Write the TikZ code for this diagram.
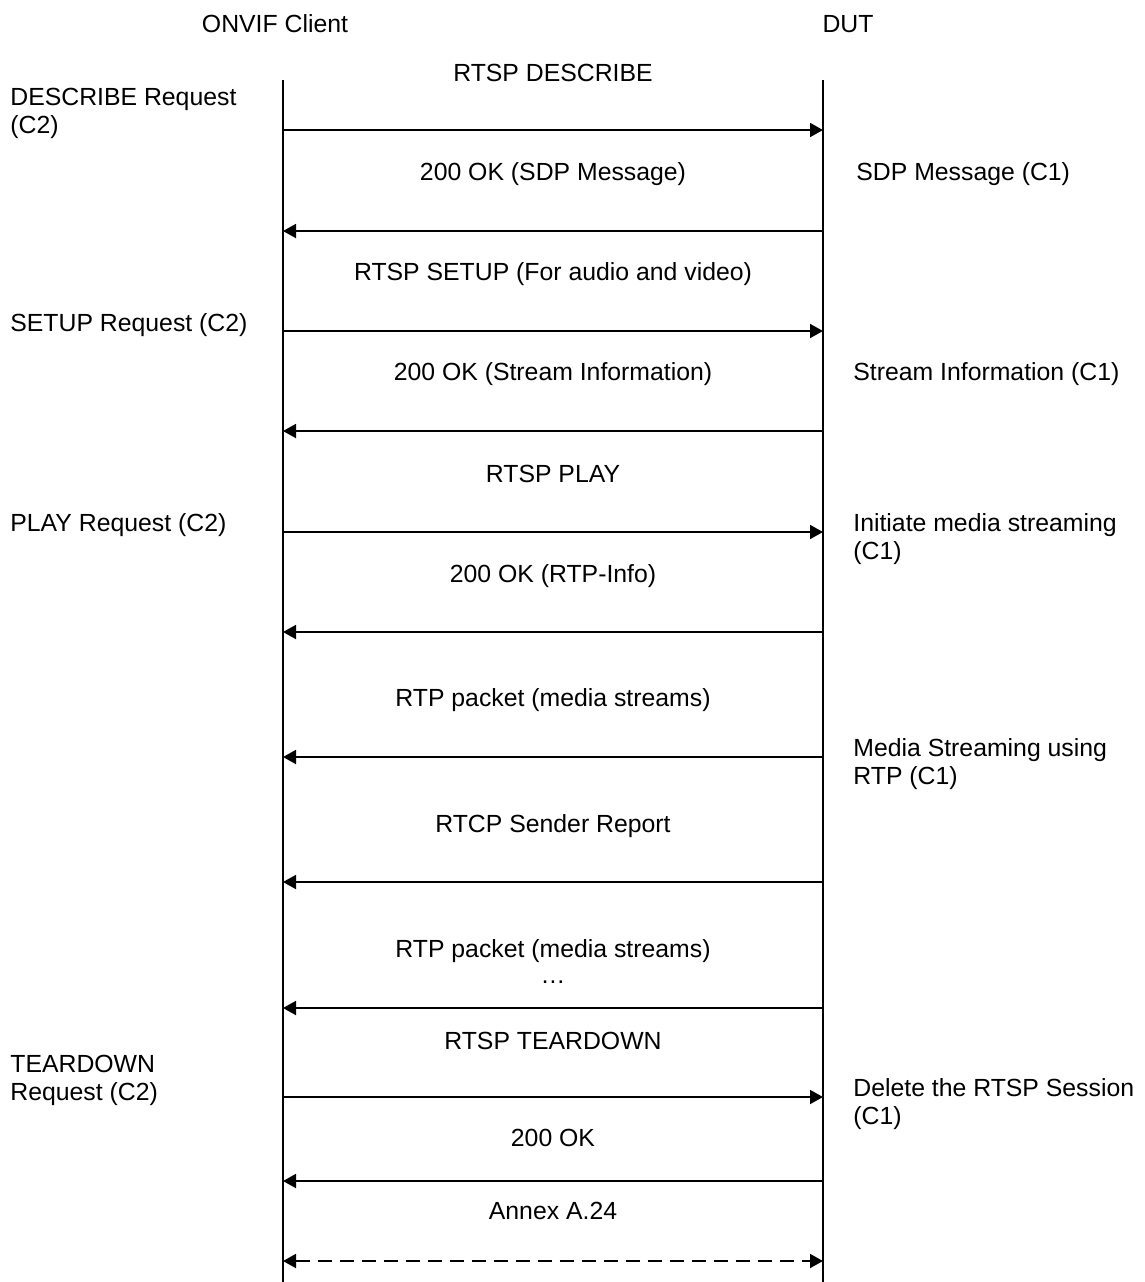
\documentclass[tikz,border=0pt]{standalone}
\usepackage{fontspec}
\setmainfont{Liberation Sans}
\usetikzlibrary{arrows.meta}

\begin{document}
\begin{tikzpicture}[x=0.5pt,y=-0.5pt,>={Triangle[length=6.5pt,width=7pt]},
    font=\fontsize{12.4}{14}\selectfont]
    \tikzset{
        lifeline/.style={line width=0.7pt},
        msg/.style={->,line width=0.9pt},
        msglabel/.style={inner sep=0pt,anchor=center,yshift=-1pt},
        sidenote/.style={inner sep=0pt,anchor=west,align=left,yshift=-1pt}
    }
    \useasboundingbox (0,0) rectangle (1145,1282);

    % headers and lifelines
    \node[msglabel] (client) at (275,22) {ONVIF Client};
    \node[msglabel] (dut) at (848,22) {DUT};
    \coordinate (ctop) at (283,80);
    \coordinate (cbot) at (283,1282);
    \coordinate (dtop) at (823,80);
    \coordinate (dbot) at (823,1282);
    \draw[lifeline] (ctop) -- (cbot);
    \draw[lifeline] (dtop) -- (dbot);

    % end points of the messages
    \coordinate (c1) at (283,130);   \coordinate (d1) at (823,130);
    \coordinate (c2) at (283,231);   \coordinate (d2) at (823,231);
    \coordinate (c3) at (283,331);   \coordinate (d3) at (823,331);
    \coordinate (c4) at (283,431);   \coordinate (d4) at (823,431);
    \coordinate (c5) at (283,532);   \coordinate (d5) at (823,532);
    \coordinate (c6) at (283,632);   \coordinate (d6) at (823,632);
    \coordinate (c7) at (283,757);   \coordinate (d7) at (823,757);
    \coordinate (c8) at (283,882);   \coordinate (d8) at (823,882);
    \coordinate (c9) at (283,1008);  \coordinate (d9) at (823,1008);
    \coordinate (c10) at (283,1097); \coordinate (d10) at (823,1097);
    \coordinate (c11) at (283,1181); \coordinate (d11) at (823,1181);
    \coordinate (c12) at (283,1261); \coordinate (d12) at (823,1261);

    % messages
    \draw[msg] (c1) -- (d1);
    \draw[msg] (d2) -- (c2);
    \draw[msg] (c3) -- (d3);
    \draw[msg] (d4) -- (c4);
    \draw[msg] (c5) -- (d5);
    \draw[msg] (d6) -- (c6);
    \draw[msg] (d7) -- (c7);
    \draw[msg] (d8) -- (c8);
    \draw[msg] (d9) -- (c9);
    \draw[msg] (c10) -- (d10);
    \draw[msg] (d11) -- (c11);
    \draw[<->,line width=0.9pt,dash pattern=on 7pt off 4pt] (c12) -- (d12);

    % message labels
    \node[msglabel] (describe) at (553,71) {RTSP DESCRIBE};
    \node[msglabel] (sdpok) at (553,172) {200 OK (SDP Message)};
    \node[msglabel] (setup) at (553,272) {RTSP SETUP (For audio and video)};
    \node[msglabel] (streamok) at (553,372) {200 OK (Stream Information)};
    \node[msglabel] (play) at (553,472) {RTSP PLAY};
    \node[msglabel] (rtpok) at (553,574) {200 OK (RTP-Info)};
    \node[msglabel] (rtp1) at (553,698) {RTP packet (media streams)};
    \node[msglabel] (rtcp) at (553,824) {RTCP Sender Report};
    \node[msglabel] (rtp2) at (553,949) {RTP packet (media streams)};
    \node[msglabel] (dots) at (553,980) {\dots};
    \node[msglabel] (teardown) at (553,1039) {RTSP TEARDOWN};
    \node[msglabel] (tdok) at (553,1136) {200 OK};
    \node[msglabel] (annex) at (553,1209) {Annex A.24};

    % client side notes
    \node[sidenote] (descreq) at (10,111) {DESCRIBE Request\\(C2)};
    \node[sidenote] (setupreq) at (10,323) {SETUP Request (C2)};
    \node[sidenote] (playreq) at (10,523) {PLAY Request (C2)};
    \node[sidenote] (tdreq) at (10,1078) {TEARDOWN\\Request (C2)};

    % DUT side notes
    \node[sidenote] (sdpmsg) at (856,172) {SDP Message (C1)};
    \node[sidenote] (streaminfo) at (853,372) {Stream Information (C1)};
    \node[sidenote] (initiate) at (853,537) {Initiate media streaming\\(C1)};
    \node[sidenote] (streaming) at (853,762) {Media Streaming using\\RTP (C1)};
    \node[sidenote] (delete) at (853,1102) {Delete the RTSP Session\\(C1)};
\end{tikzpicture}
\end{document}
